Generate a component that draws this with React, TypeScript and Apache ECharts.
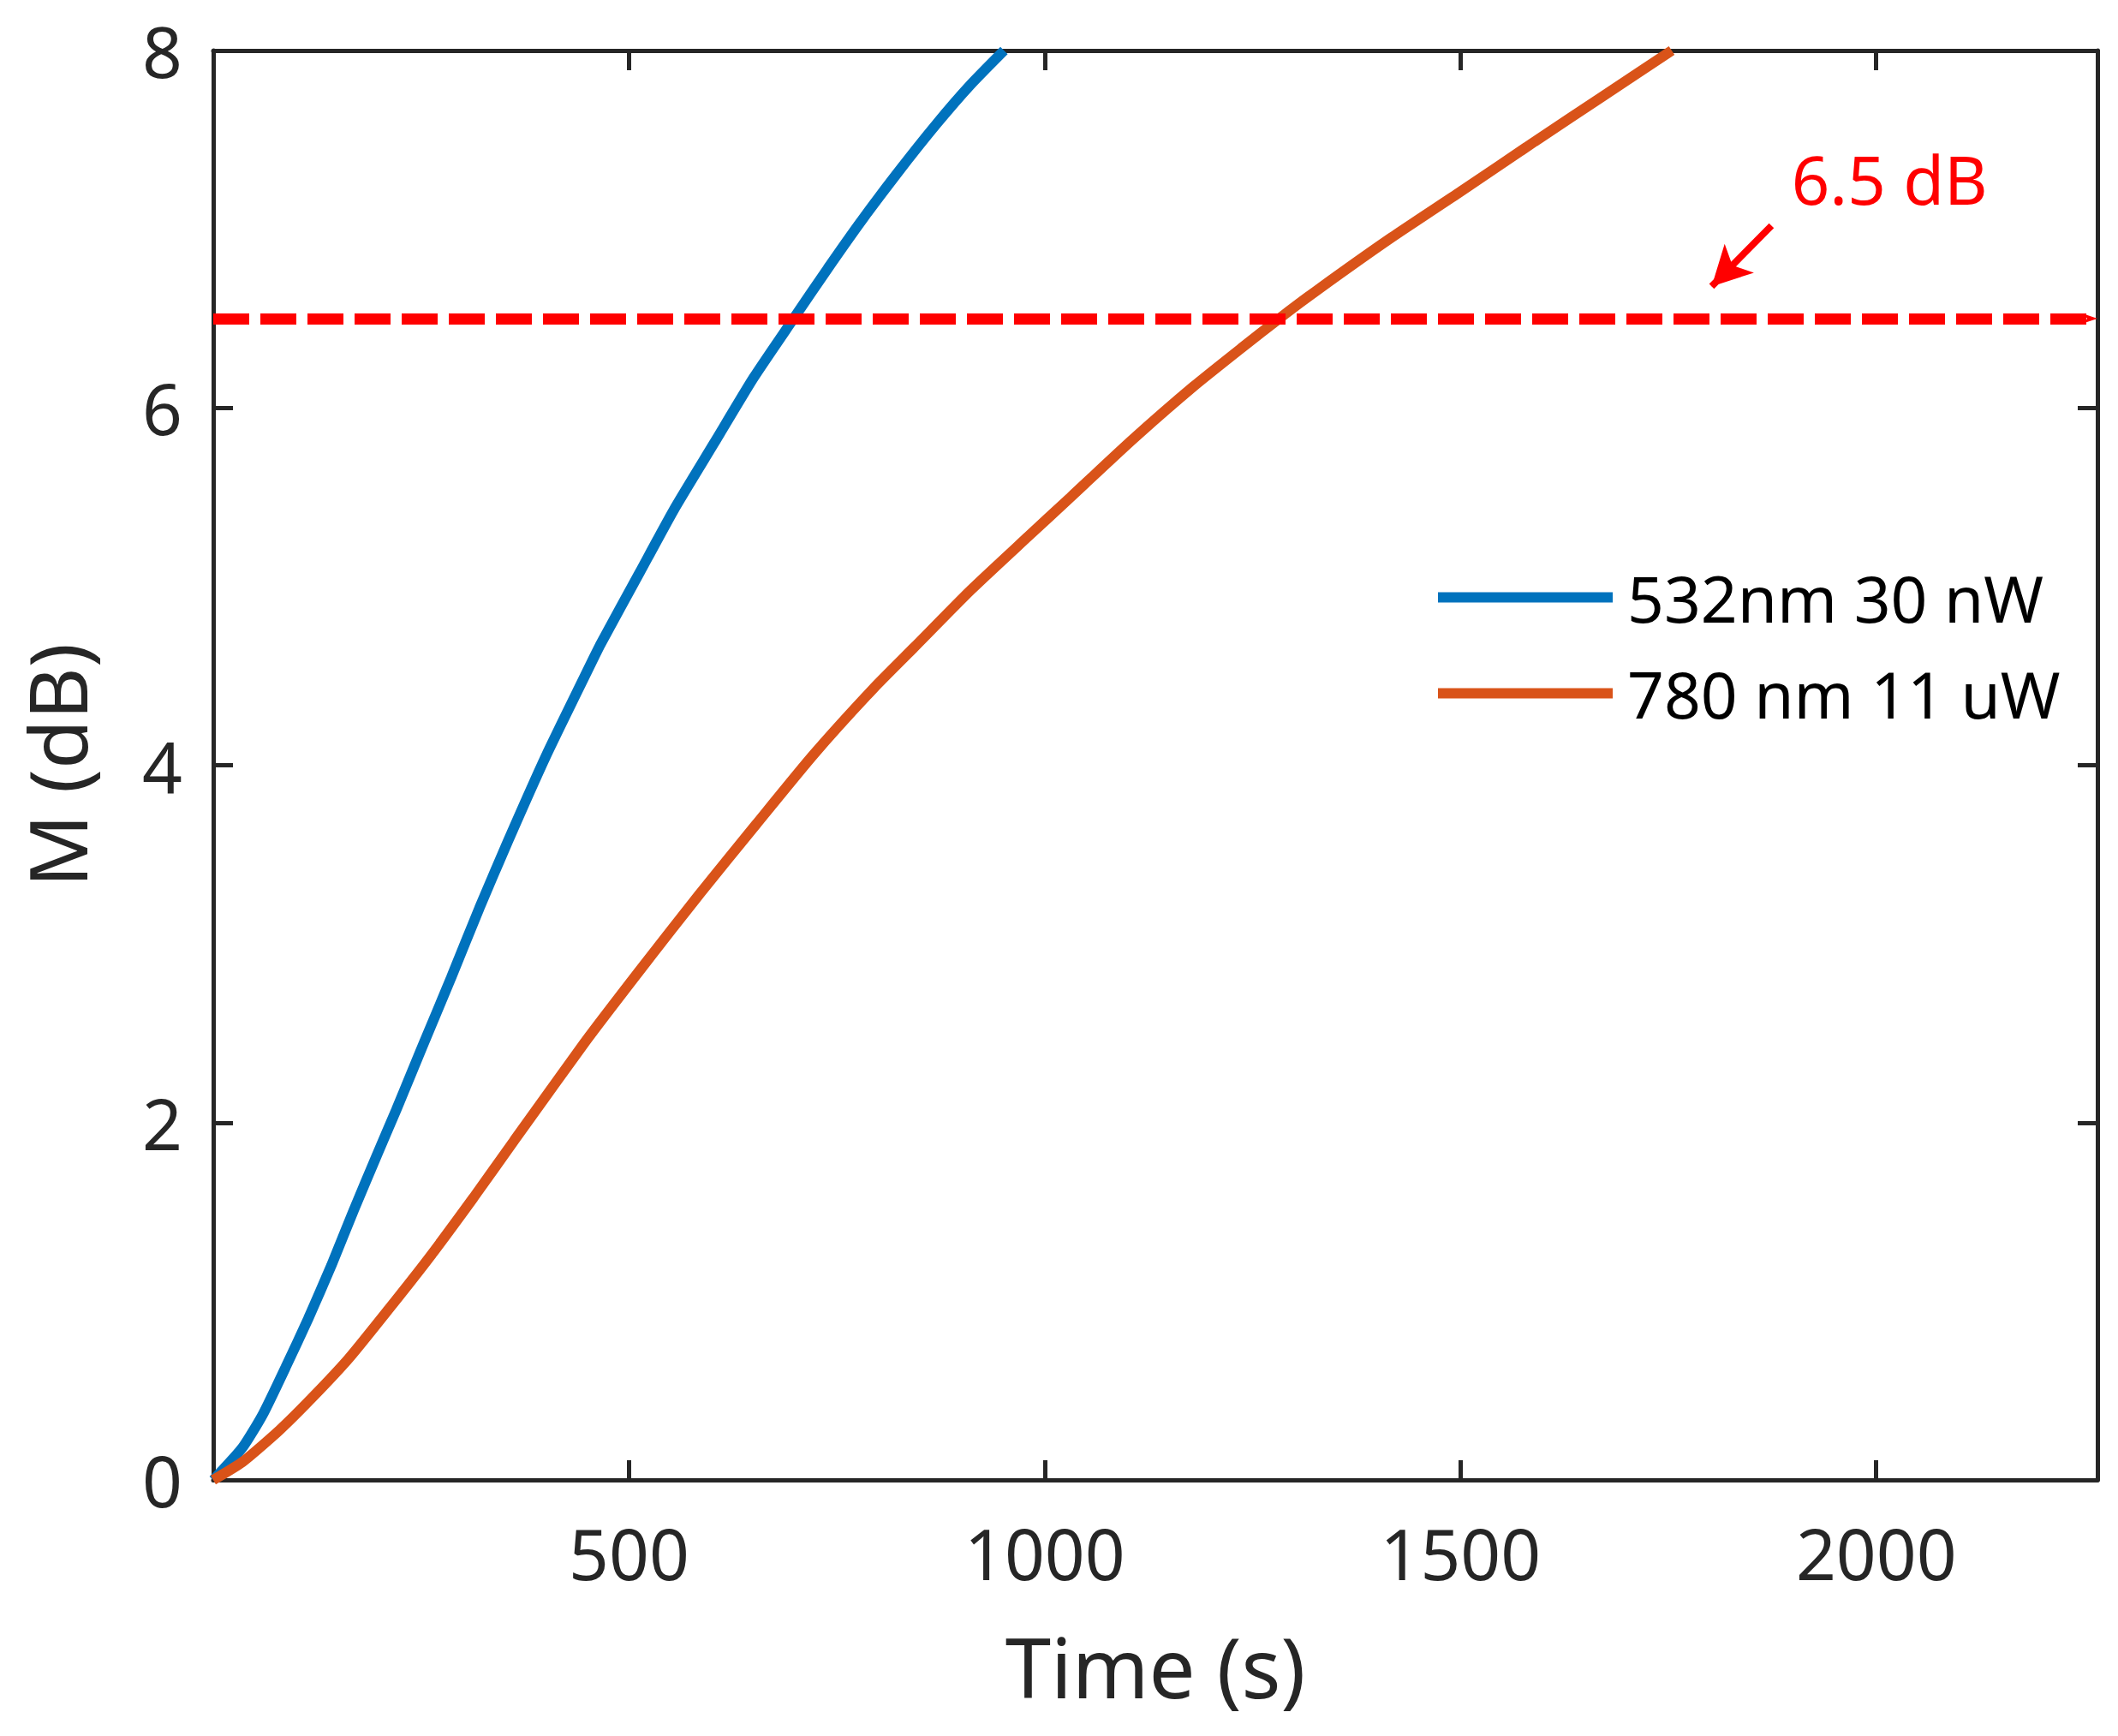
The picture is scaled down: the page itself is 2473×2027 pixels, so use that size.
import React, { useEffect, useRef } from "react";
import * as echarts from "echarts";

// ---- data ----
const seriesNames = ["532nm 30 nW", "780 nm 11 uW"];

const blueTime = [0, 35, 60, 87, 114, 142, 169, 197, 220, 251, 286, 320, 354, 400, 447, 465, 513, 554, 602, 650, 698, 739, 780, 822, 870, 911, 951];
const blueM = [0, 0.18, 0.37, 0.63, 0.9, 1.2, 1.51, 1.82, 2.07, 2.42, 2.81, 3.2, 3.57, 4.05, 4.5, 4.67, 5.08, 5.43, 5.8, 6.17, 6.5, 6.78, 7.05, 7.31, 7.59, 7.81, 8.0];

const orangeTime = [0, 35, 80, 121, 163, 210, 259, 313, 362, 447, 516, 585, 653, 722, 794, 843, 911, 980, 1031, 1105, 1179, 1238, 1282, 1328, 1416, 1500, 1589, 1673, 1754];
const orangeM = [0, 0.1, 0.28, 0.47, 0.68, 0.95, 1.24, 1.58, 1.9, 2.45, 2.87, 3.28, 3.67, 4.06, 4.43, 4.66, 4.98, 5.28, 5.5, 5.82, 6.12, 6.34, 6.5, 6.66, 6.95, 7.21, 7.49, 7.75, 8.0];

const xMin = 0;
const xMax = 2266;
const xInterval = 500;
const yMin = 0;
const yMax = 8;
const yInterval = 2;

const thresholdDB = 6.5;
const thresholdLabel = "6.5 dB";
const annotationTextAt = [1898, 7.28];
const arrowFrom = [1874, 7.02];
const arrowTo = [1802, 6.68];

const xTitle = "Time (s)";
const yTitle = "M (dB)";

// ---- styles ----
const FONT = "'Noto Sans', 'DejaVu Sans', sans-serif";
const AXIS_COLOR = "#262626";
const BLUE = "#0072BD";
const ORANGE = "#D95319";
const RED = "#FF0000";

function zip(a: number[], b: number[]) {
  return a.map((v, i) => [v, b[i]]);
}

const axisLineStyle = { color: AXIS_COLOR, width: 5 };

function App() {
  const ref = useRef<HTMLDivElement>(null);

  useEffect(() => {
    if (!ref.current) return;
    const chart = echarts.init(ref.current, undefined, { renderer: "svg" });

    const commonX = {
      type: "value",
      min: xMin,
      max: xMax,
      interval: xInterval,
      splitLine: { show: false },
      axisLine: { show: true, onZero: false, lineStyle: axisLineStyle },
      axisTick: { show: true, inside: true, length: 23, lineStyle: axisLineStyle },
    };
    const commonY = {
      type: "value",
      min: yMin,
      max: yMax,
      interval: yInterval,
      splitLine: { show: false },
      axisLine: { show: true, onZero: false, lineStyle: axisLineStyle },
      axisTick: { show: true, inside: true, length: 23, lineStyle: axisLineStyle },
    };

    const option = {
      animation: false,
      backgroundColor: "#ffffff",
      textStyle: { fontFamily: FONT },
      grid: { left: 249, top: 59, width: 2200, height: 1669, containLabel: false },
      legend: {
        data: seriesNames,
        orient: "vertical",
        left: 1674,
        top: 646,
        itemWidth: 204,
        itemHeight: 12,
        itemGap: 19,
        icon: "rect",
        textStyle: {
          fontFamily: FONT,
          fontSize: 75,
          lineHeight: 75,
          color: "#000000",
          padding: [0, 0, 18, 12],
        },
      },
      xAxis: [
        {
          ...commonX,
          position: "bottom",
          name: xTitle,
          nameLocation: "middle",
          nameGap: 169,
          nameTextStyle: { fontFamily: FONT, fontSize: 96, lineHeight: 96, color: AXIS_COLOR },
          axisLabel: {
            show: true,
            fontFamily: FONT,
            fontSize: 82,
            lineHeight: 82,
            color: AXIS_COLOR,
            margin: 44,
            showMaxLabel: false,
            formatter: (v: number) => (v > 0 && v % xInterval === 0 ? String(v) : ""),
          },
        },
        {
          ...commonX,
          position: "top",
          axisLabel: { show: false },
        },
      ],
      yAxis: [
        {
          ...commonY,
          position: "left",
          name: yTitle,
          nameLocation: "middle",
          nameGap: 136,
          nameTextStyle: { fontFamily: FONT, fontSize: 94, lineHeight: 94, color: AXIS_COLOR },
          axisLabel: {
            show: true,
            fontFamily: FONT,
            fontSize: 82,
            lineHeight: 82,
            color: AXIS_COLOR,
            margin: 36,
          },
        },
        {
          ...commonY,
          position: "right",
          axisLabel: { show: false },
        },
      ],
      series: [
        {
          name: seriesNames[0],
          type: "line",
          xAxisIndex: 0,
          yAxisIndex: 0,
          data: zip(blueTime, blueM),
          showSymbol: false,
          smooth: 0.2,
          lineStyle: { color: BLUE, width: 12 },
          itemStyle: { color: BLUE },
          z: 3,
        },
        {
          name: seriesNames[1],
          type: "line",
          xAxisIndex: 0,
          yAxisIndex: 0,
          data: zip(orangeTime, orangeM),
          showSymbol: false,
          smooth: 0.2,
          lineStyle: { color: ORANGE, width: 12 },
          itemStyle: { color: ORANGE },
          z: 3,
        },
        {
          name: "threshold",
          type: "line",
          xAxisIndex: 0,
          yAxisIndex: 0,
          data: [],
          z: 5,
          markLine: {
            silent: true,
            animation: false,
            label: { show: false },
            data: [
              {
                yAxis: thresholdDB,
                symbol: "none",
                lineStyle: { color: RED, width: 13, type: [42, 13], opacity: 1 },
              },
              [
                {
                  coord: arrowFrom,
                  symbol: "none",
                  lineStyle: { color: RED, width: 8, type: "solid", opacity: 1 },
                },
                {
                  coord: arrowTo,
                  symbol: "arrow",
                  symbolSize: [36, 46],
                  lineStyle: { color: RED, width: 8, type: "solid", opacity: 1 },
                },
              ],
            ],
          },
          markPoint: {
            silent: true,
            animation: false,
            data: [
              {
                coord: annotationTextAt,
                symbol: "circle",
                symbolSize: 0,
                itemStyle: { color: RED },
                label: {
                  show: true,
                  position: "right",
                  distance: 0,
                  formatter: thresholdLabel,
                  color: RED,
                  fontFamily: FONT,
                  fontSize: 78,
                },
              },
            ],
          },
        },
      ],
    };

    chart.setOption(option as any);
    return () => {
      chart.dispose();
    };
  }, []);

  return (
    <div
      ref={ref}
      style={{ position: "absolute", left: 0, top: 0, width: 2473, height: 2027, background: "#ffffff" }}
    />
  );
}

export default App;
